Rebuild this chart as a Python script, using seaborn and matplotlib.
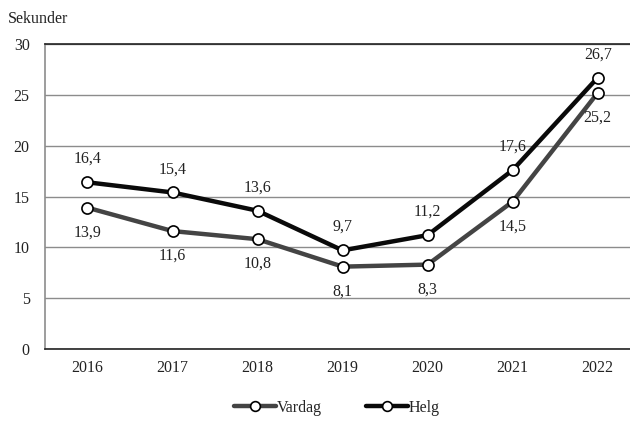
import pandas as pd
import seaborn as sns
import matplotlib.pyplot as plt

# data
years = ["2016", "2017", "2018", "2019", "2020", "2021", "2022"]
vardag = [13.9, 11.6, 10.8, 8.1, 8.3, 14.5, 25.2]
helg = [16.4, 15.4, 13.6, 9.7, 11.2, 17.6, 26.7]

df = pd.DataFrame({
    "year": years * 2,
    "sek": vardag + helg,
    "typ": ["Vardag"] * len(years) + ["Helg"] * len(years),
})

sns.set_style("white")
plt.rcParams['font.family'] = ['Liberation Serif', 'DejaVu Serif']
fs = 11.5

fig = plt.figure(figsize=(6.3, 4.24), dpi=100)
ax = fig.add_axes([0.0714, 0.177, 0.9286, 0.719])

pal = {"Vardag": "#444444", "Helg": "#0a0a0a"}
sns.lineplot(data=df, x="year", y="sek", hue="typ", palette=pal, ax=ax,
             marker="o", markersize=8, markerfacecolor="white",
             markeredgecolor="black", markeredgewidth=1.2, linewidth=3.2,
             legend=False, sort=False)

# value labels: Helg above, Vardag below
for i, (v, h) in enumerate(zip(vardag, helg)):
    ax.annotate(f"{h:.1f}".replace(".", ","), (i, h), xytext=(0, 11),
                textcoords="offset points", ha="center", va="bottom",
                fontsize=fs, color="#222222")
    ax.annotate(f"{v:.1f}".replace(".", ","), (i, v), xytext=(0, -12),
                textcoords="offset points", ha="center", va="top",
                fontsize=fs, color="#222222")

ax.set_ylim(0, 30)
ax.set_xlim(-0.5, 6.38)
ax.set_yticks(range(0, 31, 5))
ax.yaxis.grid(True, color="#8c8c8c", linewidth=1)
ax.set_axisbelow(True)
ax.set_xlabel("")
ax.set_ylabel("")
ax.tick_params(axis="both", length=0, labelsize=fs, colors="#222222")
ax.tick_params(axis="y", pad=11)
ax.tick_params(axis="x", pad=8)

ax.spines["right"].set_visible(False)
ax.spines["top"].set_color("#222222")
ax.spines["bottom"].set_color("#222222")
ax.spines["left"].set_color("#8c8c8c")
for s in ["top", "bottom", "left"]:
    ax.spines[s].set_linewidth(1.2)

fig.text(0.012, 0.955, "Sekunder", fontsize=fs, color="#222222", va="center")

handles = [plt.Line2D([], [], color=pal[k], linewidth=3.2, marker="o",
                      markersize=7, markerfacecolor="white",
                      markeredgecolor="black", markeredgewidth=1.2)
           for k in ["Vardag", "Helg"]]
fig.legend(handles, ["Vardag", "Helg"], loc="center", bbox_to_anchor=(0.535, 0.038),
           ncol=2, frameon=False, fontsize=fs, handlelength=2.6,
           handletextpad=0.05, columnspacing=2.8)

fig.savefig("out.png", dpi=100)
